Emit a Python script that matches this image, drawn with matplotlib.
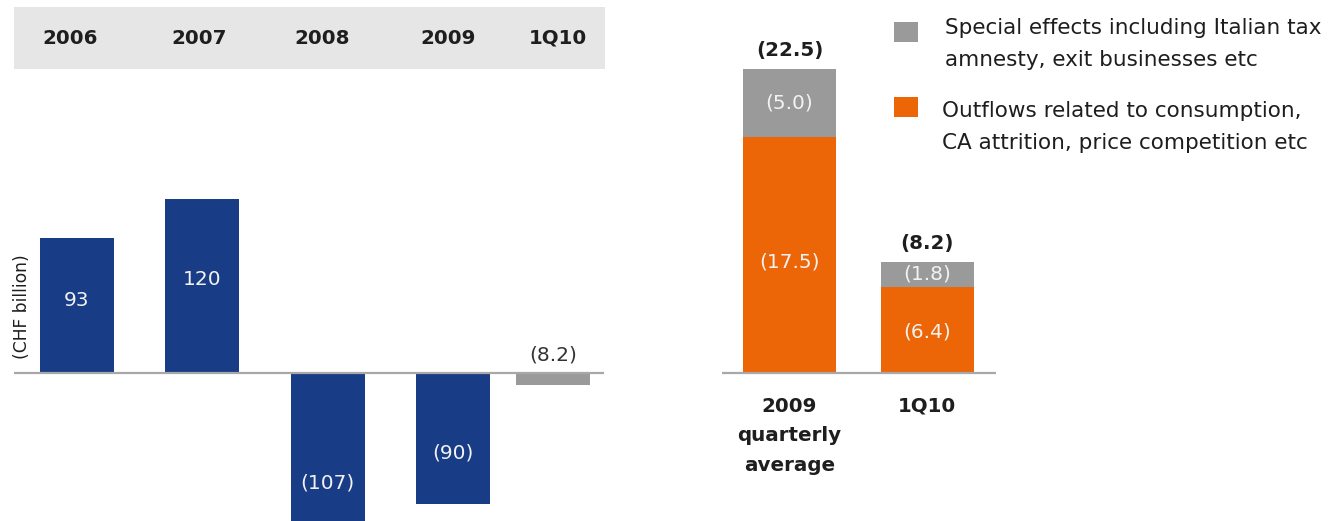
import matplotlib
matplotlib.use("Agg")
import matplotlib.pyplot as plt
from matplotlib.patches import Rectangle
from matplotlib.transforms import blended_transform_factory

# ---------------- data ----------------
periods = ["2006", "2007", "2008", "2009", "1Q10"]
net_new_money = [93, 120, -107, -90, -8.2]
nnm_labels = ["93", "120", "(107)", "(90)", "(8.2)"]

outflow_cats = ["2009\nquarterly\naverage", "1Q10"]
consumption_outflows = [17.5, 6.4]
special_effects = [5.0, 1.8]
outflow_totals = [22.5, 8.2]
consumption_labels = ["(17.5)", "(6.4)"]
special_labels = ["(5.0)", "(1.8)"]
total_labels = ["(22.5)", "(8.2)"]

legend_labels = ["Special effects including Italian tax\namnesty, exit businesses etc",
                 "Outflows related to consumption,\nCA attrition, price competition etc"]
unit_label = "(CHF billion)"

# ---------------- style ----------------
BLUE = "#183c86"
ORANGE = "#ec6608"
GRAY = "#9a9a9a"
HEADER = "#e6e6e6"
BASE = "#a8a8a8"
DARK = "#1e1e1e"
LIGHT = "#f2f2f2"

plt.rcParams["font.family"] = ["DejaVu Sans"]

W, H = 1341, 521
fig = plt.figure(figsize=(W / 100, H / 100), dpi=100)
fig.patch.set_facecolor("white")

def fy(py):
    return 1 - py / H

# header band
fig.add_artist(Rectangle((14 / W, fy(69)), (605 - 14) / W, (69 - 7) / H,
                         transform=fig.transFigure, facecolor=HEADER,
                         edgecolor="none", zorder=0))

# ---------------- left chart ----------------
scale1 = 1.45  # px per unit
ax1 = fig.add_axes([14 / W, 0, 602 / W, 1])
ax1.set_xlim(-0.5, 4.3)
ax1.set_ylim(-148 / scale1, 373 / scale1)
ax1.axis("off")
pos1 = [0, 1, 2, 3, 3.8]
colors1 = [BLUE, BLUE, BLUE, BLUE, GRAY]
ax1.bar(pos1, net_new_money, width=0.59, color=colors1, zorder=2)
ax1.axhline(0, xmin=0, xmax=(603 - 14) / 602, color=BASE, lw=1.6, zorder=3)

label_frac = [0.54, 0.54, 0.71, 0.61]
for p, v, lab, fr in zip(pos1[:4], net_new_money[:4], nnm_labels[:4], label_frac):
    ax1.text(p, v * fr, lab, color=LIGHT, ha="center", va="center", fontsize=14.5)
ax1.annotate(nnm_labels[4], xy=(pos1[4], 0), xytext=(0, 13), textcoords="offset points",
             ha="center", va="center", fontsize=14.5, color="#333333")

trans_h = blended_transform_factory(ax1.transData, fig.transFigure)
header_shift = [-0.05, -0.02, -0.04, -0.04, 0.04]
for p, lab, sh in zip(pos1, periods, header_shift):
    ax1.text(p + sh, fy(38), lab, transform=trans_h, ha="center", va="center",
             fontsize=14.3, fontweight="bold", color=DARK, clip_on=False)

fig.text(22 / W, fy(307), unit_label, rotation=90, ha="center", va="center",
         fontsize=12.3, color=DARK)

# ---------------- right chart ----------------
scale2 = 13.5
ax2 = fig.add_axes([722 / W, 0, 274 / W, 1])
ax2.set_xlim(-0.489, 1.497)
ax2.set_ylim(-148 / scale2, 373 / scale2)
ax2.axis("off")
pos2 = [0, 1]
ax2.bar(pos2, consumption_outflows, width=0.674, color=ORANGE, zorder=2)
ax2.bar(pos2, special_effects, width=0.674, bottom=consumption_outflows, color=GRAY, zorder=2)
ax2.axhline(0, color=BASE, lw=1.6, zorder=3)

for p, c, s, cl, sl, t, tl, cat in zip(pos2, consumption_outflows, special_effects,
                                        consumption_labels, special_labels,
                                        outflow_totals, total_labels, outflow_cats):
    ax2.text(p, c * 0.47, cl, color=LIGHT, ha="center", va="center", fontsize=14.5)
    ax2.text(p, c + s / 2, sl, color=LIGHT, ha="center", va="center", fontsize=14.5)
    ax2.annotate(tl, xy=(p, t), xytext=(0, 13.7), textcoords="offset points",
                 ha="center", va="center", fontsize=14.3, fontweight="bold", color=DARK)
    ax2.annotate(cat, xy=(p, 0), xytext=(0, -17), textcoords="offset points",
                 ha="center", va="top", fontsize=14.3, fontweight="bold", color=DARK,
                 linespacing=1.72)

# ---------------- legend ----------------
fig.add_artist(Rectangle((894 / W, fy(42)), 24 / W, 20 / H, transform=fig.transFigure,
                         facecolor=GRAY, edgecolor="none"))
fig.add_artist(Rectangle((894 / W, fy(117)), 24 / W, 20 / H, transform=fig.transFigure,
                         facecolor=ORANGE, edgecolor="none"))
fig.text(945 / W, fy(44), legend_labels[0], ha="left", va="center", fontsize=15.5,
         color=DARK, linespacing=1.8)
fig.text(942 / W, fy(127), legend_labels[1], ha="left", va="center", fontsize=15.5,
         color=DARK, linespacing=1.8)

fig.savefig("out.png", dpi=100, facecolor="white")
